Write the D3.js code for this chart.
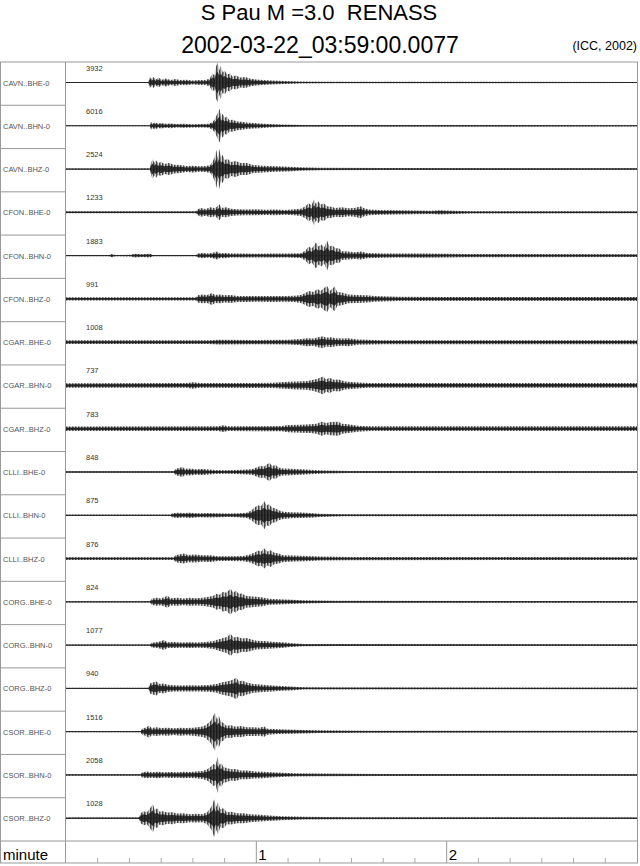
<!DOCTYPE html>
<html>
<head>
<meta charset="utf-8">
<script src="https://cdn.jsdelivr.net/npm/d3@7"></script>
<style>
  body { margin: 0; background: white; }
  text { font-family: "Liberation Sans", Arial, sans-serif; white-space: pre; }
</style>
</head>
<body>
<script>
// Seismogram sheet - S Pau M=3.0, RENASS

//* station channels and peak counts
const stations = ["CAVN", "CFON", "CGAR", "CLLI", "CORG", "CSOR"]
const components = ["BHE", "BHN", "BHZ"]
const peakCounts = [3932, 6016, 2524, 1233, 1883, 991, 1008, 737, 783, 848, 875, 876, 824, 1077, 940, 1516, 2058, 1028]

// envelopes: [seconds, relative amplitude]
const cavnBHE = [[0,.02],[26,.02],[26.3,.3],[26.9,.18],[27.5,.28],[28.3,.15],[29.2,.24],[30.2,.14],[31.5,.2],[33,.13],[34.5,.17],[36,.12],[38,.14],[40,.1],[42,.12],[44,.12],[45.3,.2],[46.2,.45],[46.8,.35],[47.3,.8],[47.8,1],[48.3,.6],[48.8,.85],[49.4,.5],[50,.6],[50.8,.4],[51.6,.45],[52.5,.3],[53.5,.35],[55,.25],[56.5,.28],[58,.2],[60,.15],[62,.13],[65,.1],[69,.07],[74,.05],[85,.04],[180,.03]]
const cavnBHN = [[0,.02],[26.5,.02],[26.8,.2],[27.4,.12],[28,.18],[29,.11],[30,.14],[31.5,.1],[33,.12],[35,.09],[37,.1],[40,.08],[43,.09],[45,.1],[46,.18],[46.8,.3],[47.4,.5],[48,.7],[48.4,.85],[48.9,.45],[49.4,.6],[50,.4],[50.7,.45],[51.5,.28],[52.5,.3],[54,.22],[55.5,.2],[57,.16],[59,.14],[61,.12],[64,.09],[68,.06],[75,.04],[180,.03]]
const cavnBHZ = [[0,.03],[26.5,.03],[26.8,.3],[27.3,.5],[27.8,.3],[28.3,.45],[29,.3],[30,.35],[31,.25],[32.5,.3],[34,.22],[36,.2],[38,.15],[40,.17],[42,.14],[44,.15],[45.5,.2],[46.3,.4],[46.9,.6],[47.4,.95],[47.8,.55],[48.3,1],[48.8,.6],[49.4,.7],[50,.45],[51,.5],[52,.35],[53.5,.4],[55,.3],[57,.3],[59,.2],[62,.17],[66,.14],[70,.12],[74,.09],[80,.06],[100,.05],[180,.04]]
const cfonBHE = [[0,.05],[41,.05],[41.5,.15],[42.5,.22],[44,.17],[45.5,.25],[47,.2],[48.4,.4],[49,.22],[50.5,.25],[52,.18],[54,.16],[57,.14],[60,.15],[63,.13],[66,.14],[69,.12],[72,.15],[74,.18],[75.5,.3],[76.5,.45],[77.4,.35],[78.2,.65],[78.8,.4],[79.5,.55],[80.3,.38],[81.2,.45],[82.3,.3],[83.5,.28],[85,.22],[87,.25],[89,.2],[91,.22],[92.9,.3],[94,.2],[95.5,.14],[99,.12],[104,.11],[110,.09],[115,.08],[118,.11],[122,.08],[128,.06],[180,.05]]
const cfonBHN = [[0,.035],[13.5,.035],[14.5,.08],[15.5,.035],[20.5,.04],[21.5,.09],[24,.07],[26.5,.09],[27.5,.035],[41,.035],[41.5,.1],[43,.13],[45,.1],[46.5,.15],[47.7,.2],[48.5,.12],[50,.13],[52,.1],[55,.1],[60,.09],[65,.1],[70,.1],[74,.12],[75.5,.25],[76.5,.45],[77.5,.35],[78.8,.65],[79.6,.45],[80.5,.55],[81.4,.4],[82.3,.75],[83,.45],[84,.5],[85,.35],[86,.38],[87,.22],[89,.2],[91,.17],[93,.2],[95,.13],[100,.11],[106,.1],[112,.11],[120,.09],[127,.08],[180,.07]]
const cfonBHZ = [[0,.08],[41,.08],[41.5,.18],[43,.22],[44.5,.2],[46,.3],[47,.2],[48.5,.22],[50,.18],[52,.2],[54,.15],[57,.15],[61,.14],[65,.15],[69,.14],[72,.16],[74,.2],[75.5,.3],[76.5,.4],[78,.35],[79.3,.5],[80.3,.4],[81.3,.55],[82.3,.65],[83.2,.4],[84.7,.62],[85.5,.35],[87,.32],[89,.22],[92,.2],[95,.18],[97,.14],[105,.11],[120,.1],[180,.1]]
const cgarBHE = [[0,.09],[45,.09],[48,.12],[60,.11],[70,.12],[74,.16],[76,.2],[78,.18],[79.5,.25],[81,.3],[82,.22],[83.5,.25],[85,.2],[87,.18],[89,.2],[92,.13],[100,.1],[180,.1]]
const cgarBHN = [[0,.11],[38,.12],[40,.16],[42,.12],[65,.13],[70,.18],[73,.2],[76,.22],[78,.28],[79.5,.35],[81,.45],[82,.3],[83,.38],[84.5,.28],[86,.3],[88,.2],[91,.16],[95,.12],[180,.12]]
const cgarBHZ = [[0,.11],[48,.12],[49.6,.17],[51,.12],[68,.13],[70,.18],[74,.2],[77,.22],[79,.25],[80.6,.35],[82,.28],[83.5,.33],[85.8,.35],[87,.25],[89,.22],[92,.15],[96,.12],[180,.12]]
const clliBHE = [[0,.035],[34,.035],[34.5,.15],[35.5,.2],[36.7,.25],[37.5,.16],[39,.18],[41,.14],[43,.15],[45,.12],[47,.1],[50,.09],[53,.1],[56,.11],[58.5,.14],[60,.22],[61.3,.3],[62.5,.28],[63.5,.4],[64.2,.45],[65,.3],[66,.35],[67,.22],[68.3,.18],[71,.16],[74,.14],[78,.1],[82,.07],[90,.05],[180,.04]]
const clliBHN = [[0,.035],[33,.035],[33.5,.1],[35,.13],[37,.11],[39,.13],[42,.1],[45,.11],[48,.1],[51,.09],[54,.1],[57,.13],[58.5,.25],[59.5,.4],[60.5,.5],[61.5,.45],[62.5,.7],[63.2,.5],[64,.55],[65,.38],[66,.35],[67,.25],[68.5,.18],[71,.15],[74,.14],[77,.12],[80,.08],[88,.05],[180,.05]]
const clliBHZ = [[0,.07],[34,.07],[34.5,.17],[36,.22],[37.2,.25],[38.5,.18],[40.5,.2],[43,.16],[45.5,.17],[48,.12],[52,.12],[56,.13],[58,.2],[59.5,.3],[60.5,.4],[61.5,.35],[62.5,.5],[63.5,.35],[64.5,.42],[65.5,.3],[67,.25],[68.5,.17],[72,.15],[76,.13],[80,.1],[90,.08],[180,.07]]
const corgBHE = [[0,.035],[26.5,.035],[27,.15],[28.5,.2],[30,.17],[32,.3],[33,.18],[35,.2],[37,.17],[39,.2],[41,.18],[43,.2],[45,.25],[46.5,.3],[47.5,.4],[48.5,.35],[49.5,.5],[50.5,.45],[51.9,.65],[52.7,.45],[53.5,.55],[54.5,.4],[55.5,.42],[56.6,.3],[58,.28],[60,.25],[62,.22],[64,.15],[67,.13],[71,.11],[75,.08],[85,.05],[180,.04]]
const corgBHN = [[0,.035],[26.5,.035],[27,.12],[29,.15],[30.9,.25],[32,.14],[34,.15],[36.5,.13],[39,.14],[41.5,.13],[44,.15],[46.5,.2],[48.4,.3],[49.5,.35],[50.7,.4],[51.9,.55],[52.8,.38],[54,.42],[55.5,.33],[57,.35],[58.5,.28],[60,.22],[62.5,.2],[65,.17],[68,.14],[70.6,.1],[75,.06],[85,.05],[180,.04]]
const corgBHZ = [[0,.035],[26,.035],[26.4,.25],[27.4,.3],[28.5,.35],[29.5,.22],[30.9,.25],[32,.18],[34,.16],[36.5,.15],[39,.16],[42,.15],[45,.17],[47.5,.22],[49,.3],[50.5,.35],[51.9,.4],[52.8,.45],[53.7,.55],[54.5,.35],[55.5,.4],[57,.3],[59,.22],[62,.18],[65,.15],[68,.12],[70.6,.1],[75,.06],[85,.05],[180,.04]]
const csorBHE = [[0,.035],[23.5,.035],[24,.15],[25,.2],[26.2,.3],[27,.18],[28.5,.22],[30,.18],[32,.2],[34,.17],[36,.2],[38,.18],[40,.2],[42.6,.25],[44,.32],[44.9,.45],[45.6,.55],[46.3,.75],[47,.95],[47.6,.6],[48.2,.8],[48.8,.5],[49.6,.45],[50.5,.3],[52,.32],[53.5,.25],[55,.28],[57,.22],[59,.22],[61,.2],[62.5,.26],[63.6,.15],[67,.12],[72,.1],[80,.07],[95,.05],[180,.04]]
const csorBHN = [[0,.035],[23.5,.035],[24,.13],[25.5,.17],[27,.14],[29,.16],[31,.13],[33,.15],[35,.14],[37,.16],[39,.15],[41,.17],[43,.2],[44.5,.28],[45.5,.4],[46.5,.55],[47.2,.5],[47.8,.9],[48.4,.5],[49,.6],[49.6,.4],[50.7,.35],[52,.28],[53.5,.3],[55,.22],[57,.22],[59,.18],[62,.16],[66,.12],[72,.08],[80,.07],[100,.05],[180,.04]]
const csorBHZ = [[0,.04],[23,.04],[23.5,.25],[24.5,.35],[25.5,.3],[26.5,.5],[27.4,.7],[28,.4],[28.7,.5],[29.5,.32],[30.5,.35],[32,.28],[33.5,.3],[35,.24],[37,.25],[39,.2],[41,.22],[43,.2],[44.5,.3],[45.5,.5],[46.1,.65],[46.7,.95],[47.3,.55],[47.9,.8],[48.6,.45],[49.6,.5],[50.7,.3],[52,.32],[54,.25],[56,.25],[58,.2],[61,.17],[64,.14],[68,.1],[75,.07],[90,.05],[180,.04]]

const envelopes = [cavnBHE, cavnBHN, cavnBHZ, cfonBHE, cfonBHN, cfonBHZ,
                   cgarBHE, cgarBHN, cgarBHZ, clliBHE, clliBHN, clliBHZ,
                   corgBHE, corgBHN, corgBHZ, csorBHE, csorBHN, csorBHZ]

const minuteTicks = [1, 2]
const timeSpan = [0, 180]

//? page layout
const w = 640
const h = 866
const frameLeft = 0.5
const frameRight = 637.5
const labelCol = 65.5
const plotTop = 62
const axisTop = 841
const plotBottom = 863
const rowH = (axisTop - plotTop) / envelopes.length

const svg = d3.select("body")
              .append("svg")
              .attr("width", w)
              .attr("height", h)
              .style("background-color", "white")

// wiggle texture for the trace envelopes
const defs = svg.append("defs")
const pat = defs.append("pattern")
                .attr("id", "wiggle")
                .attr("patternUnits", "userSpaceOnUse")
                .attr("width", 1.5)
                .attr("height", 8)
pat.append("rect")
   .attr("width", 0.8)
   .attr("height", 8)
   .attr("fill", "#000")

// titles
svg.append("text")
   .attr("x", 319).attr("y", 20)
   .attr("text-anchor", "middle")
   .style("font-size", "22px")
   .text("S Pau M =3.0  RENASS")
svg.append("text")
   .attr("x", 320).attr("y", 53)
   .attr("text-anchor", "middle")
   .style("font-size", "23px")
   .text("2002-03-22_03:59:00.0077")
svg.append("text")
   .attr("x", 637).attr("y", 50)
   .attr("text-anchor", "end")
   .style("font-size", "12.5px")
   .text("(ICC, 2002)")

//? scales
const xScale = d3.scaleLinear()
                 .domain(timeSpan)
                 .range([66, 637])
const yScale = d3.scaleLinear()
                 .domain([-1, 1])
                 .range([20, -20])
// dense core of the wiggles sits at roughly half the peak swing
const yCore = d3.scaleLinear()
                .domain([-1, 1])
                .range([11, -11])

const rows = envelopes.map((env, i) => ({
  env: env,
  name: stations[Math.floor(i / 3)] + ".." + components[i % 3] + "-0",
  peak: peakCounts[i],
  base: plotTop + rowH * i + 20.5
}))

// frame
const frame = svg.append("g")
                 .attr("fill", "none")
                 .attr("stroke", "#999")
                 .attr("stroke-width", 1)
frame.append("rect")
     .attr("x", frameLeft).attr("y", plotTop)
     .attr("width", frameRight - frameLeft)
     .attr("height", plotBottom - plotTop)
frame.append("line")
     .attr("x1", labelCol).attr("x2", labelCol)
     .attr("y1", plotTop).attr("y2", plotBottom)
frame.append("line")
     .attr("x1", frameLeft).attr("x2", frameRight)
     .attr("y1", axisTop).attr("y2", axisTop)
frame.selectAll(".sep")
     .data(d3.range(1, envelopes.length))
     .enter()
     .append("line")
     .attr("x1", frameLeft).attr("x2", labelCol)
     .attr("y1", (d) => plotTop + rowH * d)
     .attr("y2", (d) => plotTop + rowH * d)

//* traces
const area = d3.area()
               .x((d) => xScale(d[0]))
               .y0((d) => yScale(-d[1]))
               .y1((d) => yScale(d[1]))
               .curve(d3.curveLinear)

const coreArea = d3.area()
                   .x((d) => xScale(d[0]))
                   .y0((d) => yCore(-d[1]))
                   .y1((d) => yCore(d[1]))
                   .curve(d3.curveLinear)

const line = d3.line()
               .x((d) => xScale(d[0]))
               .y(0)

const trace = svg.selectAll(".trace")
                 .data(rows)
                 .enter()
                 .append("g")
                 .attr("class", "trace")
                 .attr("transform", (d) => "translate(0," + d.base + ")")

trace.append("path")
     .attr("d", (d) => area(d.env))
     .attr("fill", "url(#wiggle)")
     .attr("opacity", 0.85)

trace.append("path")
     .attr("d", (d) => coreArea(d.env))
     .attr("fill", "#111")
     .attr("opacity", 0.8)

trace.append("path")
     .attr("d", (d) => line(d.env))
     .attr("stroke", "#222")
     .attr("stroke-width", 0.9)
     .attr("fill", "none")

trace.append("text")
     .attr("x", 3)
     .attr("y", 3)
     .style("font-size", "7.5px")
     .attr("fill", "#555")
     .text((d) => d.name)

trace.append("text")
     .attr("x", 86)
     .attr("y", -12)
     .style("font-size", "7.5px")
     .attr("fill", "#333")
     .text((d) => d.peak)

//? time axis
const axis = svg.append("g")
svg.append("text")
   .attr("x", 3).attr("y", 860)
   .style("font-size", "15px")
   .text("minute")

axis.selectAll(".minor")
    .data(d3.range(10, 180, 10).filter((s) => s % 60 !== 0))
    .enter()
    .append("line")
    .attr("x1", (d) => xScale(d)).attr("x2", (d) => xScale(d))
    .attr("y1", plotBottom - 5).attr("y2", plotBottom)
    .attr("stroke", "#aaa")

axis.selectAll(".major")
    .data(minuteTicks)
    .enter()
    .append("line")
    .attr("x1", (d) => xScale(d * 60)).attr("x2", (d) => xScale(d * 60))
    .attr("y1", axisTop).attr("y2", plotBottom)
    .attr("stroke", "#999")

axis.selectAll(".lab")
    .data(minuteTicks)
    .enter()
    .append("text")
    .attr("x", (d) => xScale(d * 60) + 2)
    .attr("y", 860)
    .style("font-size", "15px")
    .text((d) => d)
</script>
</body>
</html>
